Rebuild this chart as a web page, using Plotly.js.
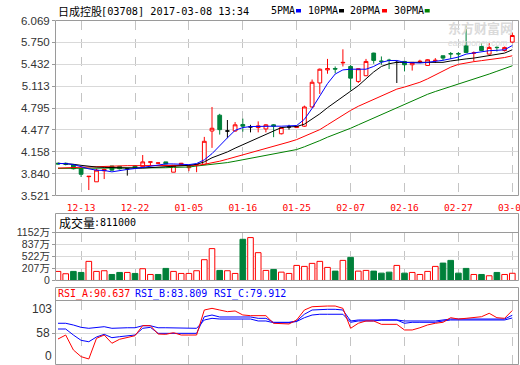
<!DOCTYPE html>
<html>
<head>
<meta charset="utf-8">
<script src="https://cdn.plot.ly/plotly-3.0.1.min.js"></script>
<style>
html,body{margin:0;padding:0;background:#fff;}
#chart{width:520px;height:365px;}
</style>
</head>
<body>
<div id="chart"></div>
<script>
// ---------- data ----------
const dates = ["12-08","12-09","12-12","12-13","12-14","12-15","12-16","12-19","12-20","12-21",
"12-22","12-23","12-28","12-29","12-30","01-03","01-04","01-05","01-06","01-09",
"01-10","01-11","01-12","01-13","01-16","01-17","01-18","01-19","01-20","01-23",
"01-24","01-25","01-26","01-27","02-01","02-02","02-03","02-06","02-07","02-08",
"02-09","02-10","02-13","02-14","02-15","02-16","02-17","02-20","02-21","02-22",
"02-23","02-24","02-27","02-28","03-01","03-02","03-03","03-06","03-07","03-08"];

const tickDates = ["12-13","12-22","01-05","01-16","01-25","02-07","02-16","02-27","03-08"];

const open = [3.99,3.99,3.97,3.91,3.795,3.72,3.88,3.95,3.945,3.91,
3.95,3.94,4.005,3.99,4.01,3.86,3.97,3.925,3.965,3.975,
4.46,4.69,4.46,4.46,4.555,4.52,4.51,4.49,4.55,4.42,
4.52,4.51,4.53,4.81,5.16,5.35,5.37,5.452,5.40,5.182,
5.265,5.595,5.48,5.492,5.459,5.473,5.425,5.47,5.415,5.486,
5.556,5.587,5.587,5.706,5.593,5.691,5.58,5.679,5.633,5.755];

const high = [4.00,4.00,3.98,3.91,3.80,3.91,3.91,3.95,3.95,3.92,
3.955,4.11,4.01,4.00,4.01,3.965,3.995,3.95,3.975,4.374,
4.81,4.71,4.62,4.59,4.64,4.55,4.60,4.56,4.56,4.52,
4.55,4.545,4.83,5.21,5.37,5.51,5.40,5.65,5.42,5.37,
5.51,5.60,5.546,5.512,5.488,5.48,5.46,5.498,5.505,5.522,
5.556,5.61,5.61,6.006,5.618,5.74,5.74,5.691,5.69,5.894];

const low = [3.97,3.96,3.90,3.79,3.60,3.72,3.76,3.88,3.90,3.81,
3.91,3.93,3.95,3.985,3.975,3.86,3.96,3.875,3.86,3.97,
4.214,4.408,4.36,4.45,4.45,4.44,4.44,4.44,4.37,4.41,
4.48,4.505,4.52,4.80,5.00,5.294,5.30,5.40,5.05,5.16,
5.26,5.44,5.425,5.362,5.159,5.328,5.34,5.45,5.41,5.45,
5.488,5.508,5.488,5.60,5.473,5.63,5.578,5.618,5.618,5.745];

const close = [3.98,3.975,3.91,3.83,3.80,3.89,3.90,3.89,3.91,3.91,
3.915,4.01,4.01,3.995,3.98,3.96,3.99,3.945,3.97,4.31,
4.50,4.48,4.46,4.55,4.53,4.52,4.535,4.55,4.53,4.51,
4.52,4.525,4.81,5.17,5.36,5.37,5.362,5.459,5.23,5.367,
5.473,5.488,5.473,5.488,5.459,5.425,5.459,5.475,5.498,5.49,
5.522,5.583,5.583,5.604,5.597,5.633,5.677,5.675,5.677,5.851];

const ma5 = [3.986,3.986,3.972,3.938,3.909,3.889,3.885,3.865,3.885,3.90,
3.913,3.932,3.947,3.967,3.98,3.98,3.976,3.97,3.986,4.04,
4.13,4.25,4.36,4.47,4.51,4.525,4.53,4.53,4.53,4.53,
4.53,4.54,4.63,4.79,4.97,5.15,5.29,5.35,5.36,5.365,
5.36,5.40,5.46,5.487,5.487,5.46,5.45,5.45,5.46,5.47,
5.49,5.512,5.537,5.58,5.60,5.61,5.63,5.635,5.643,5.705];

const ma10 = [3.99,3.985,3.975,3.96,3.945,3.935,3.93,3.925,3.92,3.92,
3.92,3.92,3.925,3.93,3.935,3.94,3.95,3.96,3.975,4.01,
4.07,4.11,4.155,4.21,4.26,4.31,4.36,4.42,4.47,4.51,
4.52,4.525,4.56,4.63,4.71,4.80,4.88,4.97,5.04,5.12,
5.22,5.32,5.40,5.44,5.46,5.46,5.455,5.45,5.45,5.455,
5.46,5.48,5.50,5.51,5.522,5.54,5.556,5.57,5.595,5.643];

const ma20 = [3.92,3.925,3.93,3.935,3.94,3.945,3.95,3.955,3.955,3.955,
3.955,3.955,3.955,3.955,3.955,3.955,3.955,3.955,3.96,3.975,
3.995,4.02,4.05,4.08,4.11,4.14,4.17,4.20,4.23,4.26,
4.30,4.335,4.38,4.43,4.48,4.55,4.62,4.70,4.76,4.82,
4.87,4.92,4.967,5.01,5.07,5.10,5.13,5.17,5.22,5.28,
5.34,5.39,5.43,5.455,5.47,5.485,5.50,5.515,5.53,5.556];

const ma30 = [3.915,3.915,3.915,3.915,3.915,3.915,3.915,3.915,3.915,3.915,
3.915,3.915,3.915,3.92,3.925,3.93,3.93,3.935,3.95,3.96,
3.97,3.985,4.00,4.02,4.04,4.06,4.08,4.10,4.12,4.14,
4.165,4.19,4.23,4.27,4.32,4.37,4.41,4.45,4.50,4.55,
4.60,4.65,4.70,4.75,4.80,4.845,4.89,4.945,4.995,5.035,
5.07,5.105,5.145,5.18,5.215,5.25,5.29,5.33,5.365,5.41];

// volume in 万 shares
const volume = [130,69,130,103,394,130,148,50,103,103,
77,201,50,50,209,130,77,77,148,438,
729,156,148,77,974,1019,623,156,182,111,
77,288,262,341,394,235,138,420,499,138,
156,138,85,111,288,85,103,50,130,262,
349,420,85,209,50,50,16,103,50,81.1];

// 1 = red hollow bar, 0 = green filled bar
const volUp = [1,1,0,0,1,1,1,0,0,1,
0,1,1,0,0,1,1,1,1,1,
1,0,1,1,0,1,1,1,0,1,
1,1,1,1,1,1,0,1,0,1,
1,0,0,0,1,0,1,1,1,1,
0,0,0,0,1,0,1,0,1,1];

const rsiA = [49.8,55.5,34.1,24.5,21.2,50.8,55.5,43.7,49.4,51.7,
54.5,68.9,68.9,56.9,56.5,58.8,55.5,55.5,55.5,91.3,
93.7,91.3,88.9,89.9,84.2,83.2,83.2,83.2,72.3,71.3,
71.3,77.0,91.3,96.0,97.0,97.0,97.0,93.7,65.1,72.3,
75.6,75.6,70.8,70.8,70.8,62.7,62.7,65.9,69.9,72.3,
73.7,80.3,78.4,79.4,80.3,81.7,86.6,80.3,79.4,90.637];

const rsiB = [64.1,64.1,55.5,47.9,45.9,52.7,56.5,51.7,53.1,54.1,
55.5,65.1,66.5,57.9,57.9,57.9,57.9,57.9,57.9,81.7,
84.1,81.3,81.3,81.3,81.3,81.3,79.4,79.4,73.7,73.7,
73.7,75.6,85.2,91.3,92.3,92.3,92.3,91.3,75.6,77.0,
77.0,77.0,77.0,77.0,77.0,75.6,75.6,75.6,75.6,75.6,
77.0,78.4,78.4,78.4,78.4,78.4,78.4,78.4,78.4,83.809];

const rsiC = [72.3,72.3,69.8,66.5,65.1,66.5,67.4,65.1,65.9,65.9,
65.9,68.8,68.8,65.9,65.9,65.9,65.1,65.1,65.1,77.0,
79.4,78.4,78.4,78.4,78.4,78.4,75.6,75.6,73.1,73.1,
73.1,74.9,80.3,84.1,85.2,85.2,85.2,85.2,73.7,75.6,
75.6,75.6,77.0,77.0,77.0,72.3,73.7,73.7,73.7,73.7,
75.6,77.0,77.0,77.0,77.0,77.0,77.0,77.0,77.0,79.912];

const priceTicks = [3.521,3.840,4.158,4.477,4.795,5.113,5.432,5.750,6.069];
const volTicks = [207,522,837,1152];
const lastVolume = 811000;

// ---------- drawing ----------
const W = 520, H = 365;
const P = x => x / W;
const Q = y => 1 - y / H;
const RED = '#ff0000', GREEN = '#00803a', BLUE = '#0000ff', MAGREEN = '#008000';
const GRID = '#d9d9d9', VGRID = '#c4c4c4', BOX = '#9a9a9a';
const MONO = 'DejaVu Sans Mono, monospace';
const SANS = 'Liberation Sans, Arial, Noto Sans CJK SC, sans-serif';
const CJK = 'Noto Sans CJK SC, sans-serif';
const VOL_FLOOR = -108;

const idxMain = [], idxDoji = [];
for (let i = 0; i < dates.length; i++) (open[i] === close[i] ? idxDoji : idxMain).push(i);
const pick = (a, idx) => idx.map(i => a[i]);

const traces = [];
traces.push({
  type: 'candlestick', x: pick(dates, idxMain),
  open: pick(open, idxMain), high: pick(high, idxMain), low: pick(low, idxMain), close: pick(close, idxMain),
  xaxis: 'x', yaxis: 'y', whiskerwidth: 0, line: {width: 1},
  increasing: {line: {color: RED, width: 1}, fillcolor: '#ffffff'},
  decreasing: {line: {color: GREEN, width: 1}, fillcolor: GREEN},
  hoverinfo: 'skip', showlegend: false
});
traces.push({
  type: 'candlestick', x: pick(dates, idxDoji),
  open: pick(open, idxDoji), high: pick(high, idxDoji), low: pick(low, idxDoji), close: pick(close, idxDoji),
  xaxis: 'x', yaxis: 'y', whiskerwidth: 0, line: {width: 1},
  increasing: {line: {color: '#000000', width: 1}, fillcolor: '#000000'},
  decreasing: {line: {color: '#000000', width: 1}, fillcolor: '#000000'},
  hoverinfo: 'skip', showlegend: false
});
[[ma30, MAGREEN], [ma20, RED], [ma10, '#000000'], [ma5, BLUE]].forEach(([d, c]) => {
  traces.push({type: 'scatter', mode: 'lines', x: dates, y: d, xaxis: 'x', yaxis: 'y',
    line: {color: c, width: 1}, hoverinfo: 'skip', showlegend: false});
});
traces.push({
  type: 'bar', x: dates, y: volume.map(v => v - VOL_FLOOR), base: VOL_FLOOR,
  xaxis: 'x2', yaxis: 'y2',
  marker: {color: volUp.map(u => u ? '#ffffff' : GREEN),
           line: {color: volUp.map(u => u ? RED : GREEN), width: 1}},
  hoverinfo: 'skip', showlegend: false
});
[[rsiC, BLUE], [rsiB, BLUE], [rsiA, RED]].forEach(([d, c]) => {
  traces.push({type: 'scatter', mode: 'lines', x: dates, y: d, xaxis: 'x3', yaxis: 'y3',
    line: {color: c, width: 1}, hoverinfo: 'skip', showlegend: false});
});

const xr = [-0.26, 59.87];
const xbase = {
  domain: [P(56), P(519)], type: 'category', categoryorder: 'array', categoryarray: dates,
  range: xr, tickvals: tickDates, ticktext: tickDates,
  showgrid: true, griddash: 'dash', gridcolor: VGRID, gridwidth: 1,
  zeroline: false, showline: false, ticks: '', fixedrange: true,
  rangeslider: {visible: false}
};

const layout = {
  width: W, height: H, margin: {l: 0, r: 0, t: 0, b: 0, pad: 0},
  paper_bgcolor: '#ffffff', plot_bgcolor: '#ffffff', showlegend: false,
  boxgap: 0.3, bargap: 0.27, hovermode: false,
  xaxis: Object.assign({}, xbase, {anchor: 'y', showticklabels: true, ticklabelstandoff: 5,
    tickfont: {family: MONO, size: 9.5, color: RED}}),
  xaxis2: Object.assign({}, xbase, {anchor: 'y2', showticklabels: false}),
  xaxis3: Object.assign({}, xbase, {anchor: 'y3', showticklabels: false}),
  yaxis: {domain: [Q(195.5), Q(20.5)], range: [3.5205, 6.0695],
    tickvals: priceTicks, ticktext: priceTicks.map(v => v.toFixed(3)),
    showgrid: true, gridcolor: GRID, zeroline: false, showline: false,
    ticks: 'outside', ticklen: 3, tickcolor: BOX,
    tickfont: {family: SANS, size: 11.5, color: '#333333'}, fixedrange: true},
  yaxis2: {domain: [Q(280.5), Q(232.5)], range: [VOL_FLOOR - 0.5, 1152.5],
    tickvals: [VOL_FLOOR].concat(volTicks), ticktext: ['0'].concat(volTicks.map(v => v + '万')),
    showgrid: true, gridcolor: GRID, zeroline: false, showline: false,
    ticks: 'outside', ticklen: 3, tickcolor: BOX,
    tickfont: {family: SANS, size: 10.5, color: '#333333'}, fixedrange: true},
  yaxis3: {domain: [Q(364.5), Q(300.5)], range: [13.3, 104.9],
    tickvals: [58], ticktext: ['58'],
    showgrid: true, gridcolor: GRID, zeroline: false, showline: false,
    ticks: 'outside', ticklen: 3, tickcolor: BOX,
    tickfont: {family: SANS, size: 12, color: '#333333'}, fixedrange: true},
  shapes: [],
  annotations: []
};

const S = layout.shapes, A = layout.annotations;
function rect(x0, y0, x1, y1, lineColor, fill) {
  S.push({type: 'rect', xref: 'paper', yref: 'paper', x0: P(x0), x1: P(x1), y0: Q(y1), y1: Q(y0),
    line: {color: lineColor, width: fill ? 0 : 1}, fillcolor: fill || 'rgba(0,0,0,0)', layer: 'above'});
}
function hline(x0, x1, y, color) {
  S.push({type: 'line', xref: 'paper', yref: 'paper', x0: P(x0), x1: P(x1), y0: Q(y), y1: Q(y),
    line: {color: color, width: 1}, layer: 'above'});
}
function txt(x, y, text, font, anchor) {
  A.push({xref: 'paper', yref: 'paper', x: P(x), y: Q(y), text: text, showarrow: false,
    xanchor: anchor || 'left', yanchor: 'middle', font: font, borderpad: 0});
}

// panel frames
rect(55.5, 20.5, 518.5, 195.5, BOX);
rect(55.5, 213.5, 518.5, 280.5, BOX);
hline(55.5, 518.5, 232.5, BOX);
rect(55.5, 287.5, 518.5, 364.5, BOX);
hline(55.5, 518.5, 300.5, BOX);

// header
txt(57, 10.7, '日成控股', {family: CJK, size: 11, color: '#000'});
txt(100, 10.7, '[03708] 2017-03-08 13:34', {family: MONO, size: 10.25, color: '#000'});
const legendItems = [['5PMA', BLUE, 270, 296], ['10PMA', '#000000', 307, 339], ['20PMA', RED, 349, 382], ['30PMA', MAGREEN, 392.5, 424.7]];
legendItems.forEach(([t, c, x, sx]) => {
  txt(x, 10.7, t, {family: MONO, size: 10, color: '#000'});
  rect(sx, 9, sx + 5, 12.5, c, c);
});

// watermark
txt(447, 27.5, '<b>东方财富网</b>', {family: CJK, size: 13, color: '#dadada'});
txt(447, 43, '<i>eastmoney.com</i>', {family: SANS, size: 8.5, color: '#dadada'});

// volume header
txt(57.5, 222.5, '成交量', {family: CJK, size: 12, color: '#000'});
txt(93.3, 222.5, ':' + lastVolume, {family: MONO, size: 10, color: '#000'});

// RSI header
txt(57.3, 294, 'RSI_A:' + rsiA[rsiA.length - 1].toFixed(3), {family: MONO, size: 10, color: RED});
txt(134.3, 294, 'RSI_B:' + rsiB[rsiB.length - 1].toFixed(3), {family: MONO, size: 10, color: BLUE});
txt(213.3, 294, 'RSI_C:' + rsiC[rsiC.length - 1].toFixed(3), {family: MONO, size: 10, color: BLUE});
// RSI axis labels placed as in the reference
txt(52.5, 309.3, '103', {family: SANS, size: 12, color: '#333333'}, 'right');
txt(52.5, 355.7, '0', {family: SANS, size: 12, color: '#333333'}, 'right');

Plotly.newPlot('chart', traces, layout, {staticPlot: true, displayModeBar: false});
</script>
</body>
</html>
